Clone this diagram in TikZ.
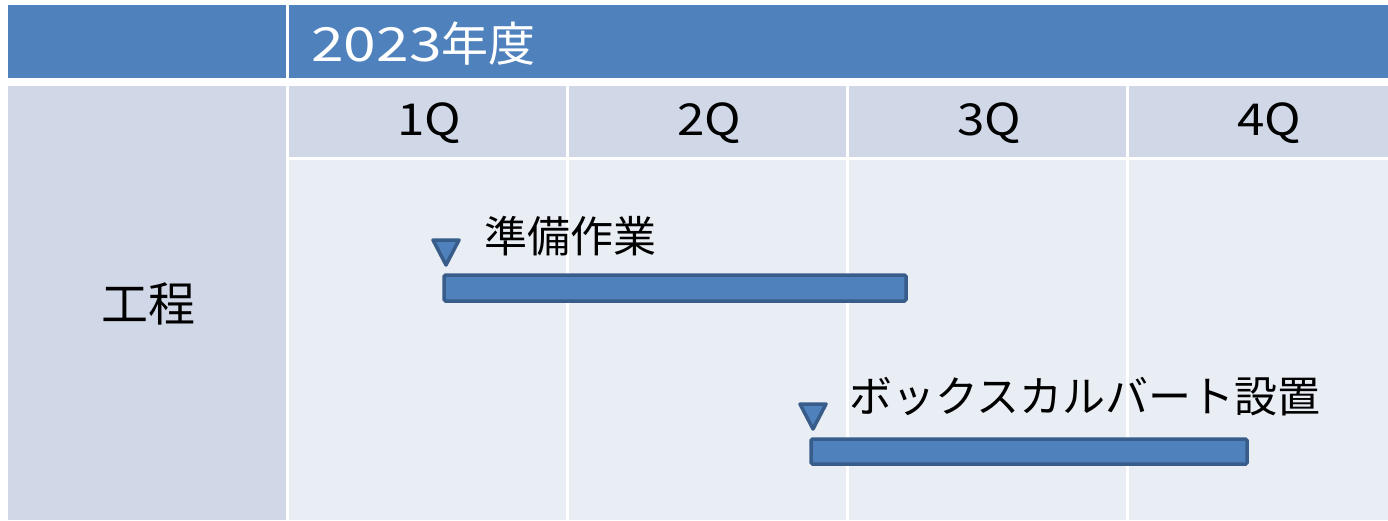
\documentclass[tikz,border=0pt]{standalone}
\usepackage{fontspec}
\setmainfont{Noto Sans CJK JP}
\newfontfamily\widedigits[FakeStretch=1.25]{Noto Sans CJK JP}
\newfontfamily\widelatin[FakeStretch=1.12]{Noto Sans CJK JP}
\definecolor{hdrblue}{HTML}{4F81BD}
\definecolor{cellgray}{HTML}{D0D8E8}
\definecolor{bodybg}{HTML}{E9EDF4}
\definecolor{bardark}{HTML}{385D8A}
\tikzset{
  bar/.style={fill=hdrblue, draw=bardark, line width=3.5pt, rounded corners=1.5pt},
  marker/.style={fill=hdrblue, draw=bardark, line width=3.5pt, line join=round},
  lbl/.style={font=\fontsize{43}{48}\selectfont, text=black, inner sep=0pt},
  qlbl/.style={font=\widelatin\fontsize{44}{48}\selectfont, text=black, inner sep=0pt},
}
\begin{document}
\begin{tikzpicture}[x=1pt,y=-1pt]
\useasboundingbox[fill=white] (0,0) rectangle (1388,520);
% header band
\fill[hdrblue] (8,5) rectangle (286,78);
\fill[hdrblue] (289,5) rectangle (1388,78);
\node[lbl, anchor=west, text=white, font=\fontsize{47}{50}\selectfont] (year) at (311,44) {{\widedigits 2023}年度};
% left column
\fill[cellgray] (8,86) rectangle (286,520);
\node[lbl, font=\fontsize{47}{50}\selectfont] (proc) at (148,304) {工程};
% quarter header cells
\fill[cellgray] (289,86) rectangle (566,157);
\fill[cellgray] (569,86) rectangle (846,157);
\fill[cellgray] (849,86) rectangle (1126,157);
\fill[cellgray] (1129,86) rectangle (1388,157);
\node[qlbl] (q1) at (429,123) {1Q};
\node[qlbl] (q2) at (709,123) {2Q};
\node[qlbl] (q3) at (989,123) {3Q};
\node[qlbl] (q4) at (1269,123) {4Q};
% body cells
\fill[bodybg] (289,160) rectangle (566,520);
\fill[bodybg] (569,160) rectangle (846,520);
\fill[bodybg] (849,160) rectangle (1126,520);
\fill[bodybg] (1129,160) rectangle (1388,520);
% task 1
\draw[marker] (433,240) -- (459,240) -- (446,265) -- cycle;
\draw[bar] (444,275) rectangle (906,301);
\node[lbl, anchor=west] (t1) at (484,236) {準備作業};
% task 2
\draw[marker] (800,404) -- (826,404) -- (813,429) -- cycle;
\draw[bar] (811,439) rectangle (1247,464);
\node[lbl, anchor=west] (t2) at (849,397) {ボックスカルバート設置};
\end{tikzpicture}
\end{document}
